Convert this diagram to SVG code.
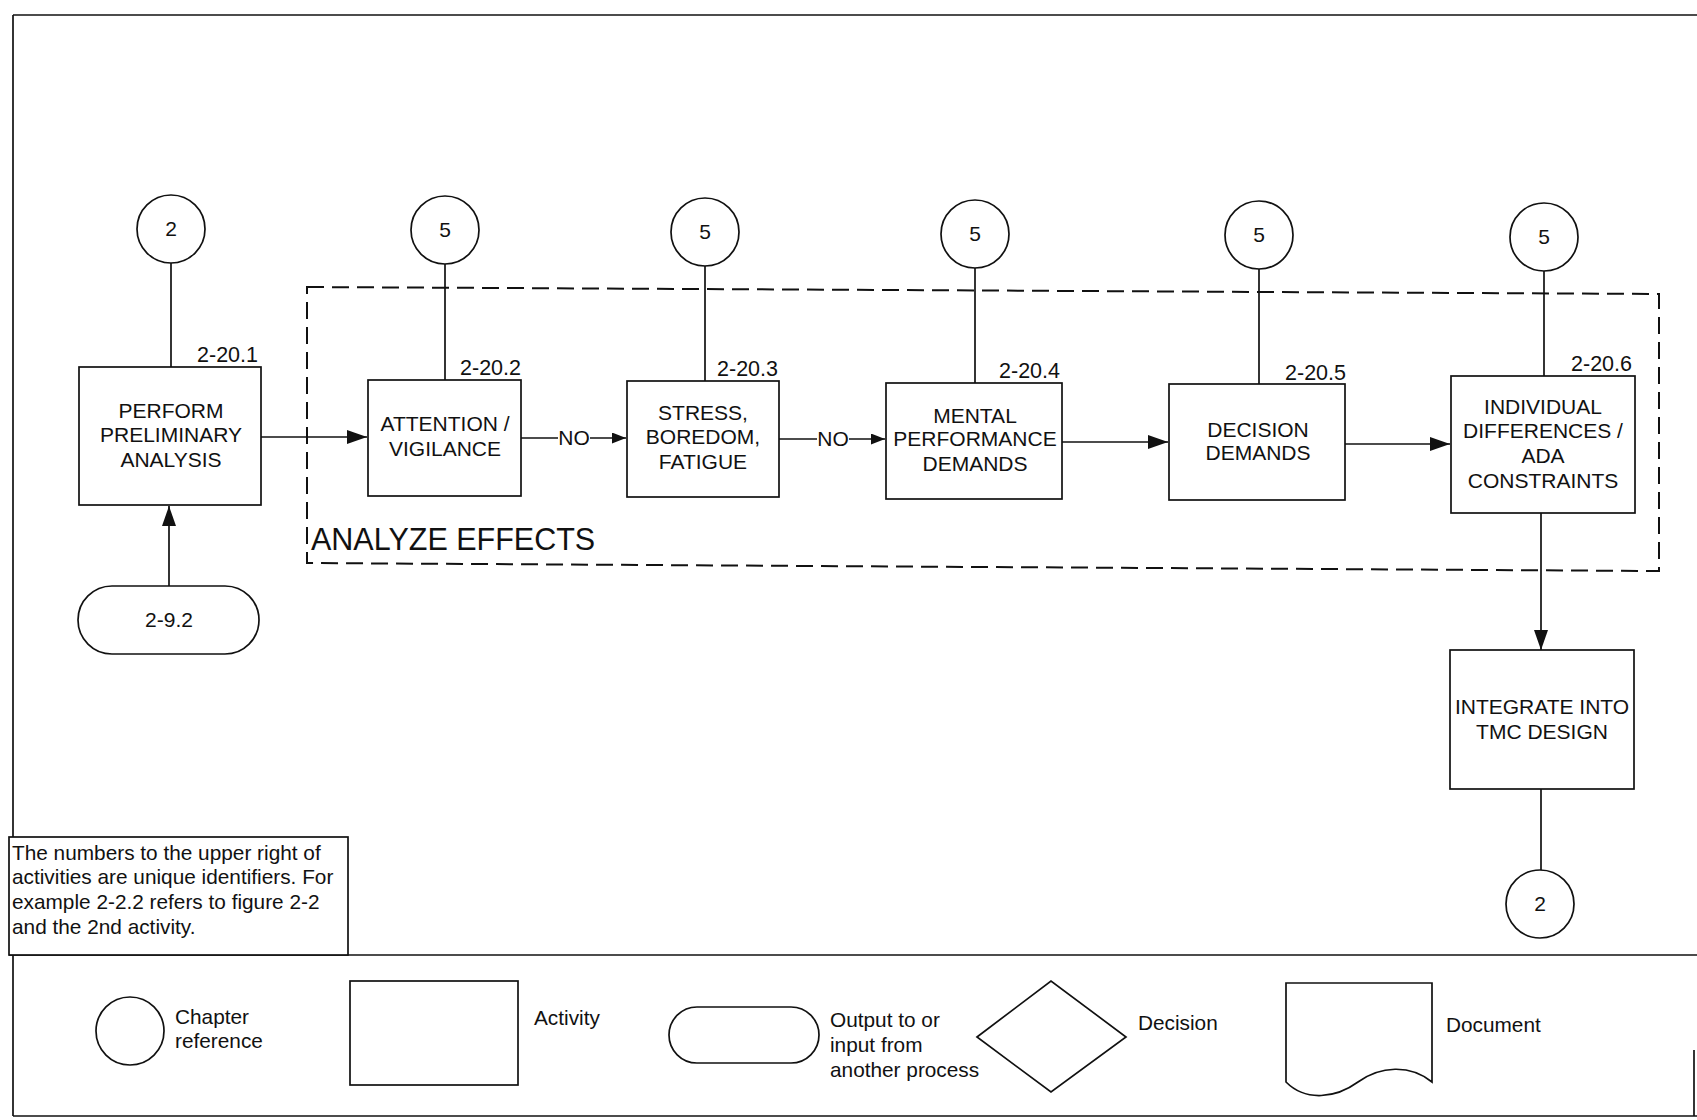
<svg xmlns="http://www.w3.org/2000/svg" width="1697" height="1120" viewBox="0 0 1697 1120">
<style>
  .s { fill: #fff; stroke: #111; stroke-width: 1.7; }
  .ln { fill: none; stroke: #111; stroke-width: 1.7; }
  .t { font-family: "Liberation Sans", Arial, sans-serif; font-size: 21px; fill: #111; }
  .id { font-size: 21.5px; }
  .n { font-size: 20.8px; }
  .c { text-anchor: middle; }
  .e { text-anchor: end; }
  .dash { fill: none; stroke: #111; stroke-width: 2; stroke-dasharray: 17 8; }
</style>
<defs>
  <marker id="arr" markerUnits="userSpaceOnUse" markerWidth="20" markerHeight="14" refX="20" refY="7" orient="auto">
    <path d="M0,0 L20,7 L0,14 z" fill="#111"/>
  </marker>
  <marker id="arrS" markerUnits="userSpaceOnUse" markerWidth="14" markerHeight="11" refX="14" refY="5.5" orient="auto">
    <path d="M0,0 L14,5.5 L0,11 z" fill="#111"/>
  </marker>
</defs>
<rect width="1697" height="1120" fill="#fff"/>

<g id="frame">
  <line class="ln" x1="13" y1="15" x2="1697" y2="15"/>
  <line class="ln" x1="13" y1="15" x2="13" y2="1116"/>
  <line class="ln" x1="13" y1="1116" x2="1697" y2="1116"/>
  <line class="ln" x1="9" y1="955" x2="1697" y2="955"/>
  <line class="ln" x1="1694" y1="1050" x2="1694" y2="1116" stroke-width="1"/>
</g>

<g id="group-analyze">
  <polygon class="dash" points="307,287 1659,294 1659,571 307,563"/>
  <text class="t" x="311" y="550" style="font-size:30.5px">ANALYZE EFFECTS</text>
</g>

<g id="connectors">
  <line class="ln" x1="171" y1="263" x2="171" y2="367"/>
  <line class="ln" x1="445" y1="264" x2="445" y2="380"/>
  <line class="ln" x1="705" y1="266" x2="705" y2="381"/>
  <line class="ln" x1="975" y1="268" x2="975" y2="383"/>
  <line class="ln" x1="1259" y1="269" x2="1259" y2="384"/>
  <line class="ln" x1="1544" y1="271" x2="1544" y2="376"/>
  <line class="ln" x1="1541" y1="789" x2="1541" y2="870"/>
  <line class="ln" x1="169" y1="586" x2="169" y2="506" marker-end="url(#arr)"/>
  <line class="ln" x1="261" y1="437" x2="367" y2="437" marker-end="url(#arr)"/>
  <line class="ln" x1="521" y1="438" x2="558" y2="438"/>
  <text class="t c" x="574" y="445">NO</text>
  <line class="ln" x1="590" y1="438" x2="626" y2="438" marker-end="url(#arrS)"/>
  <line class="ln" x1="779" y1="439" x2="817" y2="439"/>
  <text class="t c" x="833" y="446">NO</text>
  <line class="ln" x1="849" y1="439" x2="885" y2="439" marker-end="url(#arrS)"/>
  <line class="ln" x1="1062" y1="442" x2="1168" y2="442" marker-end="url(#arr)"/>
  <line class="ln" x1="1345" y1="444" x2="1450" y2="444" marker-end="url(#arr)"/>
  <line class="ln" x1="1541" y1="513" x2="1541" y2="650" marker-end="url(#arr)"/>
</g>

<g id="ref-2-top">
  <circle class="s" cx="171" cy="229" r="34"/>
  <text class="t c" x="171" y="236">2</text>
</g>
<g id="ref-5-a">
  <circle class="s" cx="445" cy="230" r="34"/>
  <text class="t c" x="445" y="237">5</text>
</g>
<g id="ref-5-b">
  <circle class="s" cx="705" cy="232" r="34"/>
  <text class="t c" x="705" y="239">5</text>
</g>
<g id="ref-5-c">
  <circle class="s" cx="975" cy="234" r="34"/>
  <text class="t c" x="975" y="241">5</text>
</g>
<g id="ref-5-d">
  <circle class="s" cx="1259" cy="235" r="34"/>
  <text class="t c" x="1259" y="242">5</text>
</g>
<g id="ref-5-e">
  <circle class="s" cx="1544" cy="237" r="34"/>
  <text class="t c" x="1544" y="244">5</text>
</g>
<g id="ref-2-bottom">
  <circle class="s" cx="1540" cy="904" r="34"/>
  <text class="t c" x="1540" y="911">2</text>
</g>

<g id="input-2-9-2">
  <rect class="s" x="78" y="586" width="181" height="68" rx="34" ry="34"/>
  <text class="t c" x="169" y="627">2-9.2</text>
</g>

<g id="act-2-20-1">
  <rect class="s" x="79" y="367" width="182" height="138"/>
  <text class="t id e" x="258" y="362">2-20.1</text>
  <text class="t c" x="171" y="418">PERFORM</text>
  <text class="t c" x="171" y="442">PRELIMINARY</text>
  <text class="t c" x="171" y="467">ANALYSIS</text>
</g>
<g id="act-2-20-2">
  <rect class="s" x="368" y="380" width="153" height="116"/>
  <text class="t id e" x="521" y="375">2-20.2</text>
  <text class="t c" x="445" y="431">ATTENTION /</text>
  <text class="t c" x="445" y="456">VIGILANCE</text>
</g>
<g id="act-2-20-3">
  <rect class="s" x="627" y="381" width="152" height="116"/>
  <text class="t id e" x="778" y="376">2-20.3</text>
  <text class="t c" x="703" y="420">STRESS,</text>
  <text class="t c" x="703" y="444">BOREDOM,</text>
  <text class="t c" x="703" y="469">FATIGUE</text>
</g>
<g id="act-2-20-4">
  <rect class="s" x="886" y="383" width="176" height="116"/>
  <text class="t id e" x="1060" y="378">2-20.4</text>
  <text class="t c" x="975" y="423">MENTAL</text>
  <text class="t c" x="975" y="446">PERFORMANCE</text>
  <text class="t c" x="975" y="471">DEMANDS</text>
</g>
<g id="act-2-20-5">
  <rect class="s" x="1169" y="384" width="176" height="116"/>
  <text class="t id e" x="1346" y="380">2-20.5</text>
  <text class="t c" x="1258" y="437">DECISION</text>
  <text class="t c" x="1258" y="460">DEMANDS</text>
</g>
<g id="act-2-20-6">
  <rect class="s" x="1451" y="376" width="184" height="137"/>
  <text class="t id e" x="1632" y="371">2-20.6</text>
  <text class="t c" x="1543" y="414">INDIVIDUAL</text>
  <text class="t c" x="1543" y="438">DIFFERENCES /</text>
  <text class="t c" x="1543" y="463">ADA</text>
  <text class="t c" x="1543" y="488">CONSTRAINTS</text>
</g>
<g id="act-integrate">
  <rect class="s" x="1450" y="650" width="184" height="139"/>
  <text class="t c" x="1542" y="714">INTEGRATE INTO</text>
  <text class="t c" x="1542" y="739">TMC DESIGN</text>
</g>

<g id="note">
  <rect class="s" x="9" y="837" width="339" height="118"/>
  <text class="t n" x="12" y="860">The numbers to the upper right of</text>
  <text class="t n" x="12" y="884">activities are unique identifiers. For</text>
  <text class="t n" x="12" y="909">example 2-2.2 refers to figure 2-2</text>
  <text class="t n" x="12" y="934">and the 2nd activity.</text>
</g>

<g id="legend">
  <circle class="s" cx="130" cy="1031" r="34"/>
  <text class="t n" x="175" y="1024">Chapter</text>
  <text class="t n" x="175" y="1048">reference</text>
  <rect class="s" x="350" y="981" width="168" height="104"/>
  <text class="t n" x="534" y="1025">Activity</text>
  <rect class="s" x="669" y="1007" width="150" height="56" rx="28" ry="28"/>
  <text class="t n" x="830" y="1027">Output to or</text>
  <text class="t n" x="830" y="1052">input from</text>
  <text class="t n" x="830" y="1077">another process</text>
  <polygon class="s" points="977,1037 1051,981 1126,1037 1051,1092"/>
  <text class="t n" x="1138" y="1030">Decision</text>
  <path class="s" d="M1286,983 L1432,983 L1432,1082 C1410,1064 1380,1066 1358,1082 C1336,1098 1306,1102 1286,1082 Z"/>
  <text class="t n" x="1446" y="1032">Document</text>
</g>
</svg>
